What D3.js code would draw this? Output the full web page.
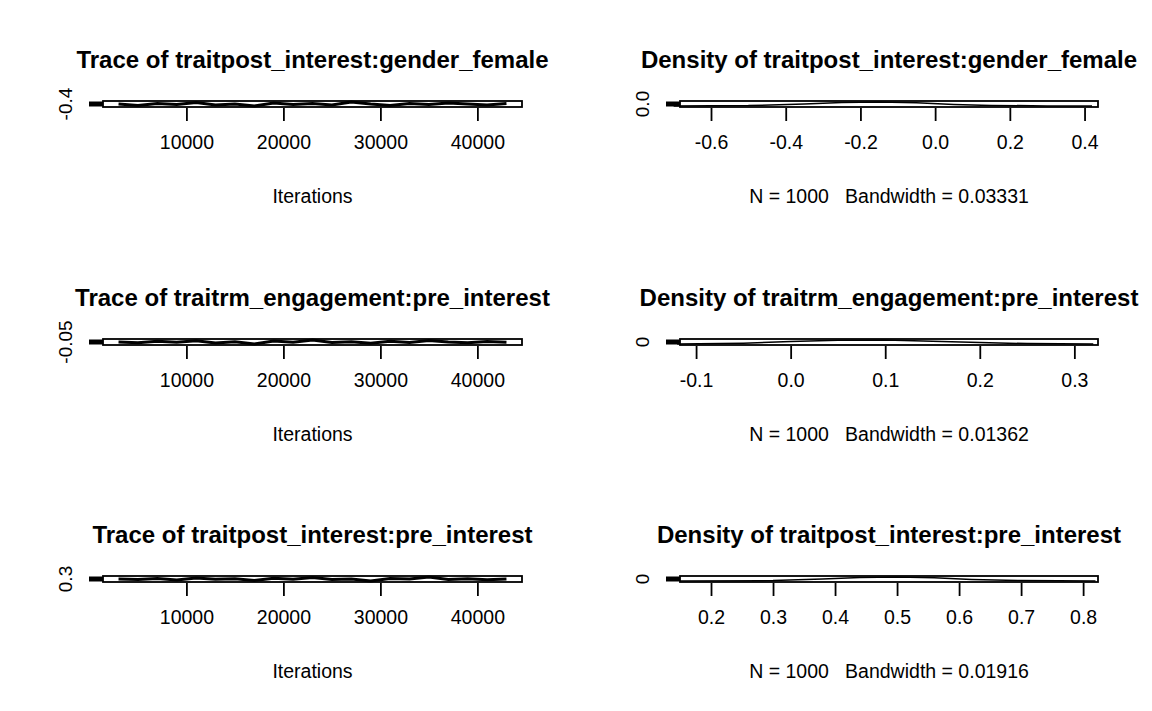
<!DOCTYPE html>
<html>
<head>
<meta charset="utf-8">
<script src="https://cdn.jsdelivr.net/npm/d3@7"></script>
<style>
body { margin: 0; background: #fff; }
text { font-family: "Liberation Sans", Arial, sans-serif; white-space: pre; }
</style>
</head>
<body>
<svg id="vis_svg"></svg>
<script>
// Data
let params = ['traitpost_interest:gender_female', 'traitrm_engagement:pre_interest', 'traitpost_interest:pre_interest'];
let iterDomain = [1400, 44600];
let iterTicks = [10000, 20000, 30000, 40000];
let densDomains = [[-0.683, 0.436], [-0.117, 0.325], [0.15, 0.824]];
let densTicks = [[-0.6, -0.4, -0.2, 0.0, 0.2, 0.4], [-0.1, 0.0, 0.1, 0.2, 0.3], [0.2, 0.3, 0.4, 0.5, 0.6, 0.7, 0.8]];
let densTickFmt = ['.1f', '.1f', '.1f'];
let traceYTick = ['-0.4', '-0.05', '0.3'];
let densYTick = ['0.0', '0', '0'];
let bandwidths = ['0.03331', '0.01362', '0.01916'];
let nSamples = 1000;
// a few trace samples per parameter (hand-read estimates)
let traceIters = [3000, 5000, 7000, 9000, 11000, 13000, 15000, 17000, 19000, 21000, 23000, 25000, 27000, 29000, 31000, 33000, 35000, 37000, 39000, 41000, 43000];
let traceVals = [
    [-0.2, -0.5, -0.1, -0.3, 0.1, -0.4, -0.2, -0.6, 0.0, -0.3, -0.1, -0.4, 0.2, -0.2, -0.5, -0.1, -0.3, 0.0, -0.2, -0.4, -0.1],
    [0.10, 0.05, 0.15, 0.08, 0.20, 0.02, 0.12, -0.05, 0.18, 0.09, 0.25, 0.06, 0.11, 0.0, 0.16, 0.07, 0.22, 0.10, 0.04, 0.14, 0.09],
    [0.50, 0.45, 0.55, 0.40, 0.60, 0.48, 0.52, 0.35, 0.58, 0.47, 0.65, 0.44, 0.51, 0.30, 0.56, 0.49, 0.70, 0.46, 0.53, 0.42, 0.50]
];
// density curves (x, relative height)
let densX = [
    [-0.7, -0.5, -0.35, -0.25, -0.15, -0.05, 0.05, 0.15, 0.3, 0.42],
    [-0.12, -0.05, 0.0, 0.05, 0.1, 0.15, 0.2, 0.25, 0.32],
    [0.15, 0.3, 0.38, 0.44, 0.5, 0.56, 0.62, 0.7, 0.82]
];
let densY = [
    [0.0, 0.1, 0.5, 0.9, 1.0, 0.8, 0.4, 0.15, 0.03, 0.0],
    [0.0, 0.2, 0.6, 0.95, 1.0, 0.7, 0.35, 0.1, 0.0],
    [0.0, 0.1, 0.5, 0.9, 1.0, 0.8, 0.4, 0.1, 0.0]
];

let config = {
    width: 1152, height: 711,
    rowTop: [101, 339, 576], boxH: 6,
    trace: { left: 103, right: 522 },
    dens: { left: 680, right: 1098 }
};

let svg = d3.select('#vis_svg')
    .attr('width', config.width)
    .attr('height', config.height);

function translate(x, y) {
    return 'translate(' + x + ',' + y + ')';
}

function drawPanel(row, kind) {
    let top = config.rowTop[row];
    let bottom = top + config.boxH;
    let c = kind === 'trace' ? config.trace : config.dens;
    let g = svg.append('g');
    let x = d3.scaleLinear()
        .domain(kind === 'trace' ? iterDomain : densDomains[row])
        .range([c.left, c.right]);
    let y, pts;
    if (kind === 'trace') {
        let ext = d3.extent(traceVals[row]);
        y = d3.scaleLinear().domain(ext).range([bottom - 1, top + 1]);
        pts = traceIters.map((it, i) => [x(it), y(traceVals[row][i])]);
    } else {
        y = d3.scaleLinear().domain([0, 1]).range([bottom - 1, top + 1]);
        pts = densX[row].map((v, i) => [x(v), y(densY[row][i])]);
    }
    g.append('path')
        .attr('d', d3.line()(pts))
        .attr('fill', 'none')
        .attr('stroke', '#000')
        .attr('stroke-width', kind === 'trace' ? 3 : 1.5);
    g.append('rect')
        .attr('x', c.left).attr('y', top)
        .attr('width', c.right - c.left).attr('height', config.boxH)
        .attr('fill', 'none').attr('stroke', '#000').attr('stroke-width', 1.8);
    // y axis (squashed tick)
    let yMid = top + config.boxH / 2;
    g.append('line')
        .attr('x1', c.left - 14).attr('x2', c.left)
        .attr('y1', yMid).attr('y2', yMid)
        .attr('stroke', '#000').attr('stroke-width', 5);
    g.append('text')
        .attr('transform', translate(c.left - 31, yMid) + ' rotate(-90)')
        .attr('text-anchor', 'middle')
        .attr('font-size', 19)
        .text(kind === 'trace' ? traceYTick[row] : densYTick[row]);
    // x axis
    let ticks = kind === 'trace' ? iterTicks : densTicks[row];
    let xAxis = d3.axisBottom(x)
        .tickValues(ticks)
        .tickSize(13)
        .tickPadding(14)
        .tickFormat(kind === 'trace' ? d3.format('d') : d3.format(densTickFmt[row]));
    let ax = g.append('g')
        .attr('transform', translate(0, bottom + 1))
        .call(xAxis);
    ax.select('.domain').remove();
    ax.selectAll('line').attr('stroke-width', 1.8);
    ax.selectAll('text')
        .attr('font-size', 19.5)
        .attr('font-family', '"Liberation Sans", Arial, sans-serif')
        .attr('fill', '#000')
        .text(d => (kind === 'trace' ? d3.format('d') : d3.format(densTickFmt[row]))(d).replace('\u2212', '-'));
    // title
    let cx = (c.left + c.right) / 2;
    g.append('text')
        .attr('x', cx).attr('y', top - 33)
        .attr('text-anchor', 'middle')
        .attr('font-size', 24).attr('font-weight', 'bold')
        .text((kind === 'trace' ? 'Trace of ' : 'Density of ') + params[row]);
    g.append('text')
        .attr('x', cx).attr('y', top + 102)
        .attr('text-anchor', 'middle')
        .attr('font-size', 19.5)
        .text(kind === 'trace' ? 'Iterations'
            : 'N = ' + nSamples + '   Bandwidth = ' + bandwidths[row]);
}

for (let r = 0; r < params.length; r++) {
    drawPanel(r, 'trace');
    drawPanel(r, 'dens');
}
</script>
</body>
</html>
